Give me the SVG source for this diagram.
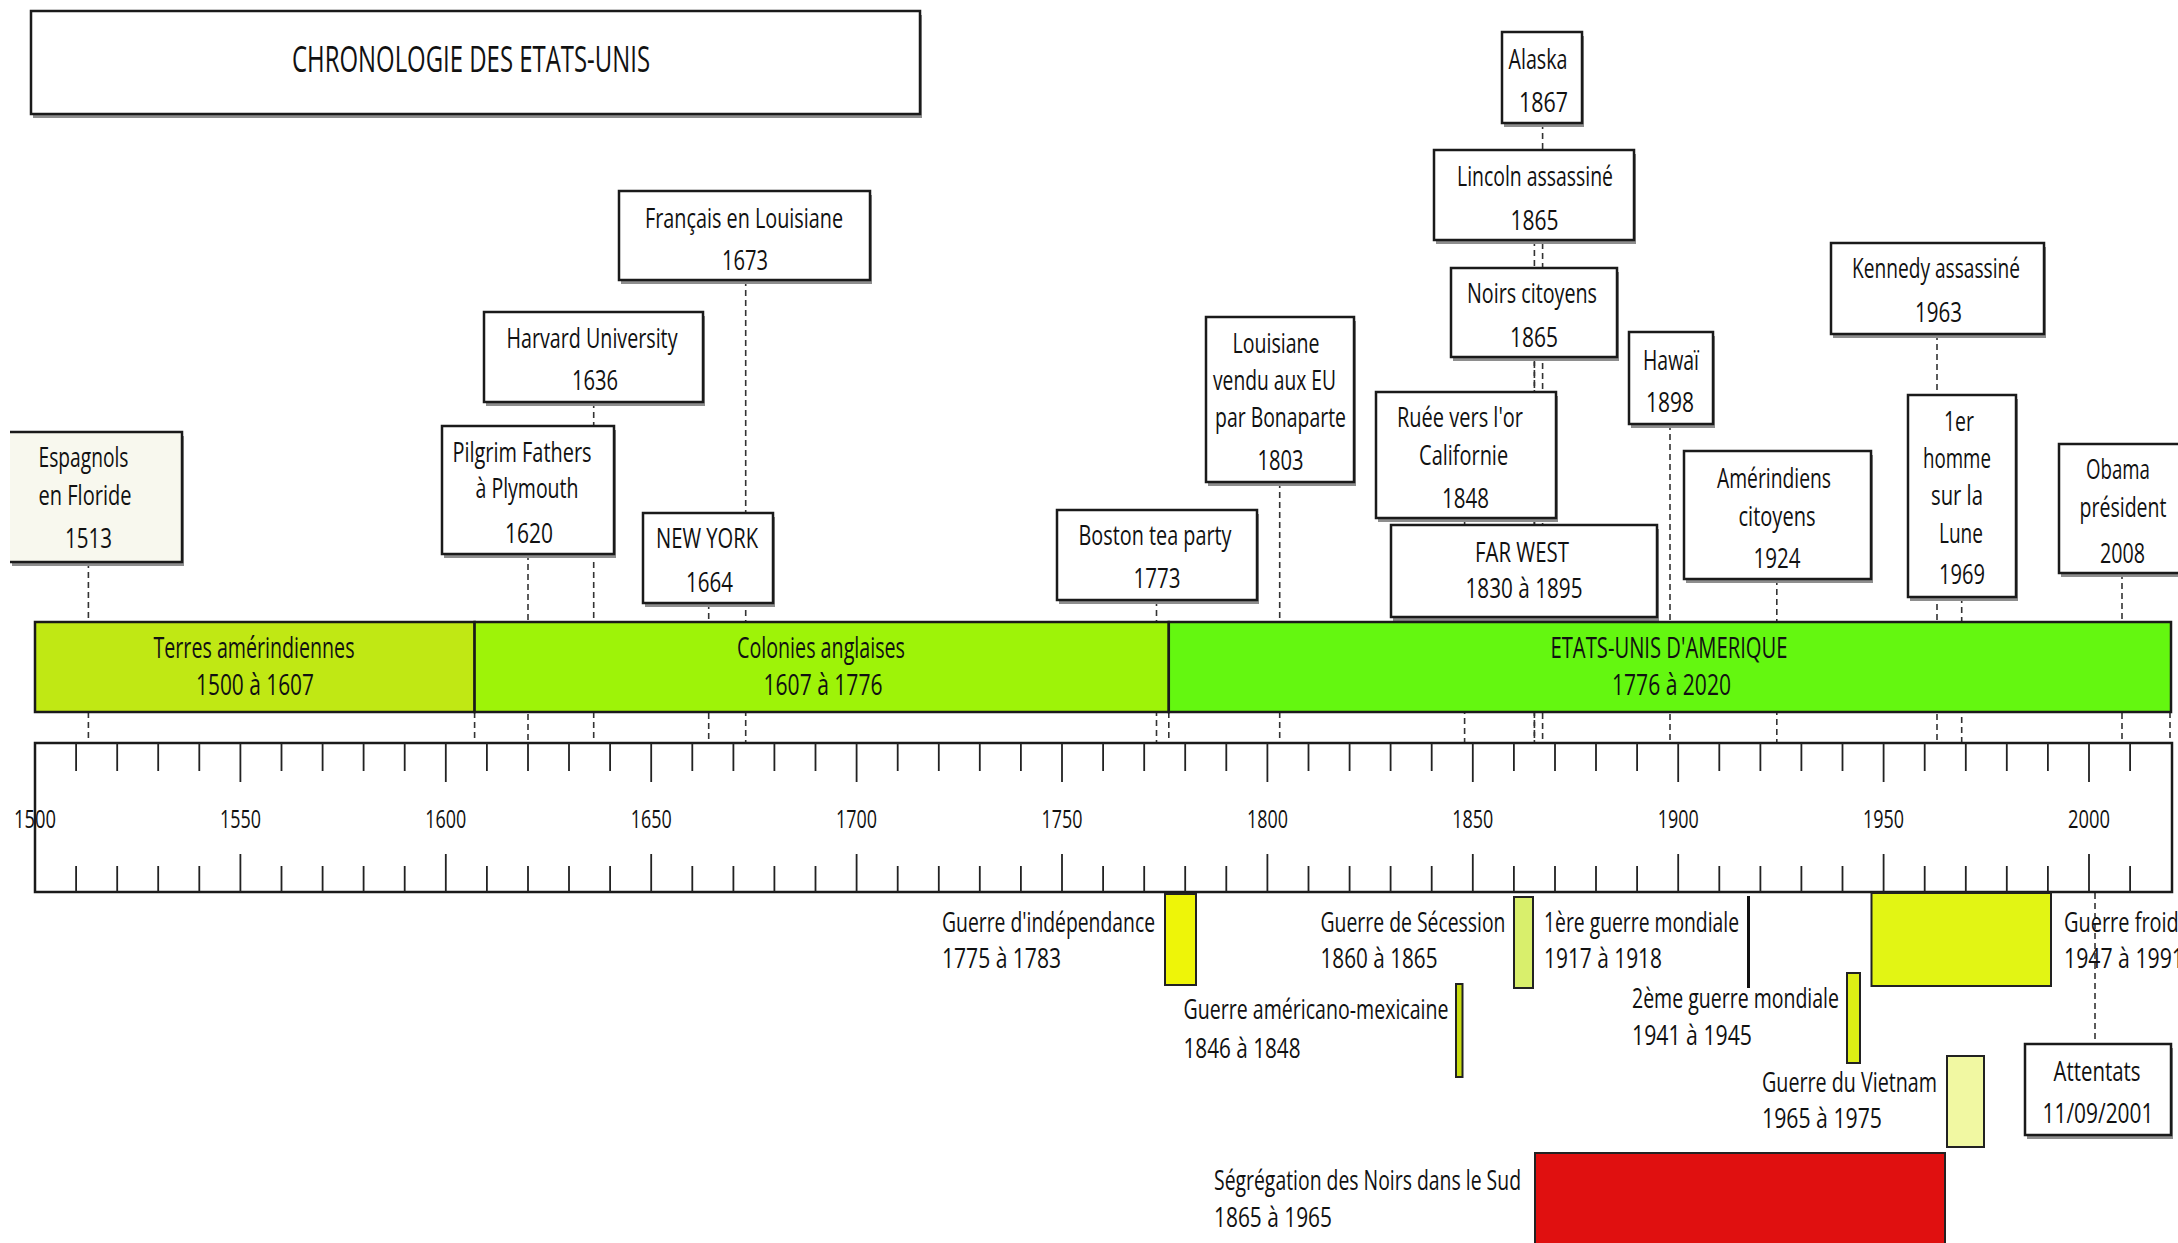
<svg xmlns="http://www.w3.org/2000/svg" width="2178" height="1243" viewBox="0 0 2178 1243">
<style>
.t{font-family:"Open Sans","Liberation Sans",sans-serif;fill:#111;}
.m{text-anchor:middle;}
.f27{font-size:27px;}
.f30{font-size:30px;}
.f25{font-size:25px;}
.f37{font-size:37px;}
.bx{fill:#fff;stroke:#1a1a1a;stroke-width:2.5;}
.sh{fill:#8e8e8e;}
.cn{stroke:#333;stroke-width:1.6;stroke-dasharray:6 4;fill:none;}
.tk{stroke:#222;stroke-width:1.8;fill:none;}
.war{stroke:#222;stroke-width:2;}
</style>
<rect width="2178" height="1243" fill="#fff"/>

<g id="title">
<rect class="sh" x="33" y="15" width="889" height="103"/>
<rect class="bx" x="31" y="11" width="889" height="103"/>
<text class="t m f37" x="471" y="72" textLength="358" lengthAdjust="spacingAndGlyphs">CHRONOLOGIE DES ETATS-UNIS</text>
</g>

<g id="connectors">
<line class="cn" x1="88.4" y1="562" x2="88.4" y2="743"/>
<line class="cn" x1="528" y1="554" x2="528" y2="743"/>
<line class="cn" x1="593.7" y1="402" x2="593.7" y2="743"/>
<line class="cn" x1="708.7" y1="603" x2="708.7" y2="743"/>
<line class="cn" x1="745.7" y1="280" x2="745.7" y2="743"/>
<line class="cn" x1="1156.5" y1="600" x2="1156.5" y2="743"/>
<line class="cn" x1="1279.7" y1="482" x2="1279.7" y2="743"/>
<line class="cn" x1="1464.6" y1="518" x2="1464.6" y2="743"/>
<line class="cn" x1="1534.4" y1="240" x2="1534.4" y2="743"/>
<line class="cn" x1="1534.4" y1="357" x2="1534.4" y2="743" stroke-dashoffset="5"/>
<line class="cn" x1="1542.6" y1="123" x2="1542.6" y2="743"/>
<line class="cn" x1="1670" y1="424" x2="1670" y2="743"/>
<line class="cn" x1="1776.8" y1="579" x2="1776.8" y2="743"/>
<line class="cn" x1="1937" y1="334" x2="1937" y2="743"/>
<line class="cn" x1="1961.7" y1="597" x2="1961.7" y2="743"/>
<line class="cn" x1="2122" y1="573" x2="2122" y2="743"/>
<line class="cn" x1="474.6" y1="712" x2="474.6" y2="743"/>
<line class="cn" x1="1168.8" y1="712" x2="1168.8" y2="743"/>
<line class="cn" x1="2170" y1="712" x2="2170" y2="743"/>
<line class="cn" x1="2095" y1="893" x2="2095" y2="1044"/>
</g>

<g id="n-espagnols">
<rect x="12" y="436" width="172" height="130" class="sh"/>
<rect x="10" y="432" width="172" height="130" fill="#f8f8ee"/>
<path d="M10 432 H182 V562 H10" fill="none" stroke="#1a1a1a" stroke-width="2.5"/>
<text class="t m f27" x="83.5" y="467" textLength="90" lengthAdjust="spacingAndGlyphs">Espagnols</text>
<text class="t m f27" x="85" y="505" textLength="93" lengthAdjust="spacingAndGlyphs">en Floride</text>
<text class="t m f27" x="88.5" y="548" textLength="47" lengthAdjust="spacingAndGlyphs">1513</text>
</g>

<g id="n-pilgrim">
<rect class="sh" x="444" y="430" width="172" height="128"/>
<rect class="bx" x="442" y="426" width="172" height="128"/>
<text class="t m f27" x="522" y="462" textLength="139" lengthAdjust="spacingAndGlyphs">Pilgrim Fathers</text>
<text class="t m f27" x="527" y="498" textLength="103" lengthAdjust="spacingAndGlyphs">à Plymouth</text>
<text class="t m f27" x="529" y="543" textLength="48" lengthAdjust="spacingAndGlyphs">1620</text>
</g>

<g id="n-harvard">
<rect class="sh" x="486" y="316" width="219" height="90"/>
<rect class="bx" x="484" y="312" width="219" height="90"/>
<text class="t m f27" x="592" y="348" textLength="171" lengthAdjust="spacingAndGlyphs">Harvard University</text>
<text class="t m f27" x="595" y="390" textLength="46" lengthAdjust="spacingAndGlyphs">1636</text>
</g>

<g id="n-francais">
<rect class="sh" x="621" y="195" width="251" height="89"/>
<rect class="bx" x="619" y="191" width="251" height="89"/>
<text class="t m f27" x="744" y="228" textLength="198" lengthAdjust="spacingAndGlyphs">Français en Louisiane</text>
<text class="t m f27" x="745" y="270" textLength="46" lengthAdjust="spacingAndGlyphs">1673</text>
</g>

<g id="n-newyork">
<rect class="sh" x="645" y="517" width="130" height="90"/>
<rect class="bx" x="643" y="513" width="130" height="90"/>
<text class="t m f27" x="707" y="548" textLength="102" lengthAdjust="spacingAndGlyphs">NEW YORK</text>
<text class="t m f27" x="709.6" y="592" textLength="47" lengthAdjust="spacingAndGlyphs">1664</text>
</g>

<g id="n-boston">
<rect class="sh" x="1059" y="514" width="200" height="90"/>
<rect class="bx" x="1057" y="510" width="200" height="90"/>
<text class="t m f27" x="1155" y="545" textLength="153" lengthAdjust="spacingAndGlyphs">Boston tea party</text>
<text class="t m f27" x="1157" y="588" textLength="47" lengthAdjust="spacingAndGlyphs">1773</text>
</g>

<g id="n-louisiane">
<rect class="sh" x="1208" y="321" width="148" height="165"/>
<rect class="bx" x="1206" y="317" width="148" height="165"/>
<text class="t m f27" x="1276" y="353" textLength="87" lengthAdjust="spacingAndGlyphs">Louisiane</text>
<text class="t m f27" x="1274.5" y="390" textLength="123" lengthAdjust="spacingAndGlyphs">vendu aux EU</text>
<text class="t m f27" x="1280.5" y="427" textLength="131" lengthAdjust="spacingAndGlyphs">par Bonaparte</text>
<text class="t m f27" x="1280.6" y="470" textLength="46" lengthAdjust="spacingAndGlyphs">1803</text>
</g>

<g id="n-ruee">
<rect class="sh" x="1378" y="396" width="180" height="126"/>
<rect class="bx" x="1376" y="392" width="180" height="126"/>
<text class="t m f27" x="1460" y="427" textLength="126" lengthAdjust="spacingAndGlyphs">Ruée vers l'or</text>
<text class="t m f27" x="1463.6" y="465" textLength="89" lengthAdjust="spacingAndGlyphs">Californie</text>
<text class="t m f27" x="1465.6" y="508" textLength="47" lengthAdjust="spacingAndGlyphs">1848</text>
</g>

<g id="n-farwest">
<rect class="sh" x="1393" y="529" width="266" height="92"/>
<rect class="bx" x="1391" y="525" width="266" height="92"/>
<text class="t m f27" x="1522" y="562" textLength="94" lengthAdjust="spacingAndGlyphs">FAR WEST</text>
<text class="t m f27" x="1524" y="598" textLength="117" lengthAdjust="spacingAndGlyphs">1830 à 1895</text>
</g>

<g id="n-alaska">
<rect class="sh" x="1504" y="36" width="80" height="91"/>
<rect class="bx" x="1502" y="32" width="80" height="91"/>
<text class="t m f27" x="1538" y="69" textLength="59" lengthAdjust="spacingAndGlyphs">Alaska</text>
<text class="t m f27" x="1543.5" y="112" textLength="49" lengthAdjust="spacingAndGlyphs">1867</text>
</g>

<g id="n-lincoln">
<rect class="sh" x="1436" y="154" width="200" height="90"/>
<rect class="bx" x="1434" y="150" width="200" height="90"/>
<text class="t m f27" x="1535" y="186" textLength="156" lengthAdjust="spacingAndGlyphs">Lincoln assassiné</text>
<text class="t m f27" x="1534.5" y="230" textLength="48" lengthAdjust="spacingAndGlyphs">1865</text>
</g>

<g id="n-noirs">
<rect class="sh" x="1453" y="272" width="166" height="89"/>
<rect class="bx" x="1451" y="268" width="166" height="89"/>
<text class="t m f27" x="1532" y="303" textLength="130" lengthAdjust="spacingAndGlyphs">Noirs citoyens</text>
<text class="t m f27" x="1534" y="347" textLength="48" lengthAdjust="spacingAndGlyphs">1865</text>
</g>

<g id="n-hawai">
<rect class="sh" x="1631" y="336" width="84" height="92"/>
<rect class="bx" x="1629" y="332" width="84" height="92"/>
<text class="t m f27" x="1671" y="370" textLength="56" lengthAdjust="spacingAndGlyphs">Hawaï</text>
<text class="t m f27" x="1670" y="412" textLength="48" lengthAdjust="spacingAndGlyphs">1898</text>
</g>

<g id="n-kennedy">
<rect class="sh" x="1833" y="247" width="213" height="91"/>
<rect class="bx" x="1831" y="243" width="213" height="91"/>
<text class="t m f27" x="1936" y="278" textLength="168" lengthAdjust="spacingAndGlyphs">Kennedy assassiné</text>
<text class="t m f27" x="1938.5" y="322" textLength="47" lengthAdjust="spacingAndGlyphs">1963</text>
</g>

<g id="n-amerindiens">
<rect class="sh" x="1686" y="455" width="187" height="128"/>
<rect class="bx" x="1684" y="451" width="187" height="128"/>
<text class="t m f27" x="1774" y="488" textLength="114" lengthAdjust="spacingAndGlyphs">Amérindiens</text>
<text class="t m f27" x="1777" y="526" textLength="77" lengthAdjust="spacingAndGlyphs">citoyens</text>
<text class="t m f27" x="1777" y="568" textLength="47" lengthAdjust="spacingAndGlyphs">1924</text>
</g>

<g id="n-lune">
<rect class="sh" x="1910" y="399" width="108" height="202"/>
<rect class="bx" x="1908" y="395" width="108" height="202"/>
<text class="t m f27" x="1959" y="431" textLength="30" lengthAdjust="spacingAndGlyphs">1er</text>
<text class="t m f27" x="1957" y="468" textLength="68" lengthAdjust="spacingAndGlyphs">homme</text>
<text class="t m f27" x="1957" y="505" textLength="52" lengthAdjust="spacingAndGlyphs">sur la</text>
<text class="t m f27" x="1961" y="543" textLength="44" lengthAdjust="spacingAndGlyphs">Lune</text>
<text class="t m f27" x="1962" y="584" textLength="46" lengthAdjust="spacingAndGlyphs">1969</text>
</g>

<g id="n-obama">
<rect class="sh" x="2061" y="448" width="130" height="129"/>
<rect class="bx" x="2059" y="444" width="130" height="129"/>
<text class="t m f27" x="2118" y="479" textLength="64" lengthAdjust="spacingAndGlyphs">Obama</text>
<text class="t m f27" x="2123" y="517" textLength="87" lengthAdjust="spacingAndGlyphs">président</text>
<text class="t m f27" x="2122.5" y="563" textLength="45" lengthAdjust="spacingAndGlyphs">2008</text>
</g>

<g id="eras">
<rect class="sh" x="37" y="716" width="2136" height="0"/>
<rect x="35" y="622" width="439.6" height="90" fill="#c0e814" stroke="#1a1a1a" stroke-width="2.5"/>
<rect x="474.6" y="622" width="694.2" height="90" fill="#9ef308" stroke="#1a1a1a" stroke-width="2.5"/>
<rect x="1168.8" y="622" width="1002.2" height="90" fill="#64f710" stroke="#1a1a1a" stroke-width="2.5"/>
<text class="t m f30" x="254" y="658" textLength="201" lengthAdjust="spacingAndGlyphs">Terres amérindiennes</text>
<text class="t m f30" x="255" y="695" textLength="118" lengthAdjust="spacingAndGlyphs">1500 à 1607</text>
<text class="t m f30" x="821" y="658" textLength="168" lengthAdjust="spacingAndGlyphs">Colonies anglaises</text>
<text class="t m f30" x="823" y="695" textLength="119" lengthAdjust="spacingAndGlyphs">1607 à 1776</text>
<text class="t m f30" x="1669" y="658" textLength="237" lengthAdjust="spacingAndGlyphs">ETATS-UNIS D'AMERIQUE</text>
<text class="t m f30" x="1671.5" y="695" textLength="119" lengthAdjust="spacingAndGlyphs">1776 à 2020</text>
</g>

<g id="axis">
<rect x="35" y="743" width="2137" height="149" fill="#fff" stroke="#1a1a1a" stroke-width="2.5"/>
<path class="tk" d="M76.1 743V771M117.2 743V771M158.2 743V771M199.3 743V771M281.5 743V771M322.6 743V771M363.6 743V771M404.7 743V771M486.9 743V771M528 743V771M569 743V771M610.1 743V771M692.3 743V771M733.4 743V771M774.4 743V771M815.5 743V771M897.7 743V771M938.8 743V771M979.8 743V771M1020.9 743V771M1103.1 743V771M1144.2 743V771M1185.2 743V771M1226.3 743V771M1308.5 743V771M1349.6 743V771M1390.6 743V771M1431.7 743V771M1513.9 743V771M1555 743V771M1596 743V771M1637.1 743V771M1719.3 743V771M1760.4 743V771M1801.4 743V771M1842.5 743V771M1924.7 743V771M1965.8 743V771M2006.8 743V771M2047.9 743V771M2130.1 743V771"/>
<path class="tk" d="M76.1 866V892M117.2 866V892M158.2 866V892M199.3 866V892M281.5 866V892M322.6 866V892M363.6 866V892M404.7 866V892M486.9 866V892M528 866V892M569 866V892M610.1 866V892M692.3 866V892M733.4 866V892M774.4 866V892M815.5 866V892M897.7 866V892M938.8 866V892M979.8 866V892M1020.9 866V892M1103.1 866V892M1144.2 866V892M1185.2 866V892M1226.3 866V892M1308.5 866V892M1349.6 866V892M1390.6 866V892M1431.7 866V892M1513.9 866V892M1555 866V892M1596 866V892M1637.1 866V892M1719.3 866V892M1760.4 866V892M1801.4 866V892M1842.5 866V892M1924.7 866V892M1965.8 866V892M2006.8 866V892M2047.9 866V892M2130.1 866V892"/>
<path class="tk" d="M240.4 743V782M445.8 743V782M651.2 743V782M856.6 743V782M1062 743V782M1267.4 743V782M1472.8 743V782M1678.2 743V782M1883.6 743V782M2089 743V782M240.4 854V892M445.8 854V892M651.2 854V892M856.6 854V892M1062 854V892M1267.4 854V892M1472.8 854V892M1678.2 854V892M1883.6 854V892M2089 854V892"/>
<text class="t m f25" x="35" y="828" textLength="42" lengthAdjust="spacingAndGlyphs">1500</text>
<text class="t m f25" x="240.4" y="828" textLength="41" lengthAdjust="spacingAndGlyphs">1550</text>
<text class="t m f25" x="445.8" y="828" textLength="41" lengthAdjust="spacingAndGlyphs">1600</text>
<text class="t m f25" x="651.2" y="828" textLength="41" lengthAdjust="spacingAndGlyphs">1650</text>
<text class="t m f25" x="856.6" y="828" textLength="41" lengthAdjust="spacingAndGlyphs">1700</text>
<text class="t m f25" x="1062" y="828" textLength="41" lengthAdjust="spacingAndGlyphs">1750</text>
<text class="t m f25" x="1267.4" y="828" textLength="41" lengthAdjust="spacingAndGlyphs">1800</text>
<text class="t m f25" x="1472.8" y="828" textLength="41" lengthAdjust="spacingAndGlyphs">1850</text>
<text class="t m f25" x="1678.2" y="828" textLength="41" lengthAdjust="spacingAndGlyphs">1900</text>
<text class="t m f25" x="1883.6" y="828" textLength="41" lengthAdjust="spacingAndGlyphs">1950</text>
<text class="t m f25" x="2089" y="828" textLength="42" lengthAdjust="spacingAndGlyphs">2000</text>
</g>

<g id="w-independance">
<rect class="war" x="1165" y="894" width="31" height="91" fill="#eef508"/>
<text class="t f27" x="942" y="932" textLength="213" lengthAdjust="spacingAndGlyphs">Guerre d'indépendance</text>
<text class="t f27" x="942" y="968" textLength="119" lengthAdjust="spacingAndGlyphs">1775 à 1783</text>
</g>

<g id="w-mexicaine">
<rect class="war" x="1456" y="984" width="6.5" height="93" fill="#c8dc10"/>
<text class="t f27" x="1183.5" y="1019" textLength="265" lengthAdjust="spacingAndGlyphs">Guerre américano-mexicaine</text>
<text class="t f27" x="1183.5" y="1058" textLength="117" lengthAdjust="spacingAndGlyphs">1846 à 1848</text>
</g>

<g id="w-secession">
<rect class="war" x="1514" y="897" width="19" height="91" fill="#d9ef6c"/>
<text class="t f27" x="1320.5" y="932" textLength="185" lengthAdjust="spacingAndGlyphs">Guerre de Sécession</text>
<text class="t f27" x="1320.5" y="968" textLength="117" lengthAdjust="spacingAndGlyphs">1860 à 1865</text>
</g>

<g id="w-ww1">
<rect x="1747" y="896" width="3" height="92" fill="#111"/>
<text class="t f27" x="1544" y="932" textLength="195" lengthAdjust="spacingAndGlyphs">1ère guerre mondiale</text>
<text class="t f27" x="1544" y="968" textLength="118" lengthAdjust="spacingAndGlyphs">1917 à 1918</text>
</g>

<g id="w-ww2">
<rect class="war" x="1847" y="973" width="13" height="90" fill="#ddee15"/>
<text class="t f27" x="1632" y="1008" textLength="207" lengthAdjust="spacingAndGlyphs">2ème guerre mondiale</text>
<text class="t f27" x="1632" y="1045" textLength="120" lengthAdjust="spacingAndGlyphs">1941 à 1945</text>
</g>

<g id="w-froide">
<rect class="war" x="1871.5" y="893" width="179.5" height="93" fill="#e2f514"/>
<text class="t f27" x="2064" y="932" textLength="126" lengthAdjust="spacingAndGlyphs">Guerre froide</text>
<text class="t f27" x="2064" y="968" textLength="120" lengthAdjust="spacingAndGlyphs">1947 à 1991</text>
</g>

<g id="w-vietnam">
<rect class="war" x="1947" y="1056" width="37" height="91" fill="#f1f8a2"/>
<text class="t f27" x="1762" y="1092" textLength="175" lengthAdjust="spacingAndGlyphs">Guerre du Vietnam</text>
<text class="t f27" x="1762" y="1128" textLength="120" lengthAdjust="spacingAndGlyphs">1965 à 1975</text>
</g>

<g id="w-segregation">
<rect class="war" x="1535" y="1153" width="410" height="100" fill="#e01010"/>
<text class="t f27" x="1214" y="1190" textLength="307" lengthAdjust="spacingAndGlyphs">Ségrégation des Noirs dans le Sud</text>
<text class="t f27" x="1214" y="1227" textLength="118" lengthAdjust="spacingAndGlyphs">1865 à 1965</text>
</g>

<g id="n-attentats">
<rect class="sh" x="2027" y="1048" width="146" height="91"/>
<rect class="bx" x="2025" y="1044" width="146" height="91"/>
<text class="t m f27" x="2097" y="1081" textLength="87" lengthAdjust="spacingAndGlyphs">Attentats</text>
<text class="t m f27" x="2098" y="1123" textLength="111" lengthAdjust="spacingAndGlyphs">11/09/2001</text>
</g>
</svg>
